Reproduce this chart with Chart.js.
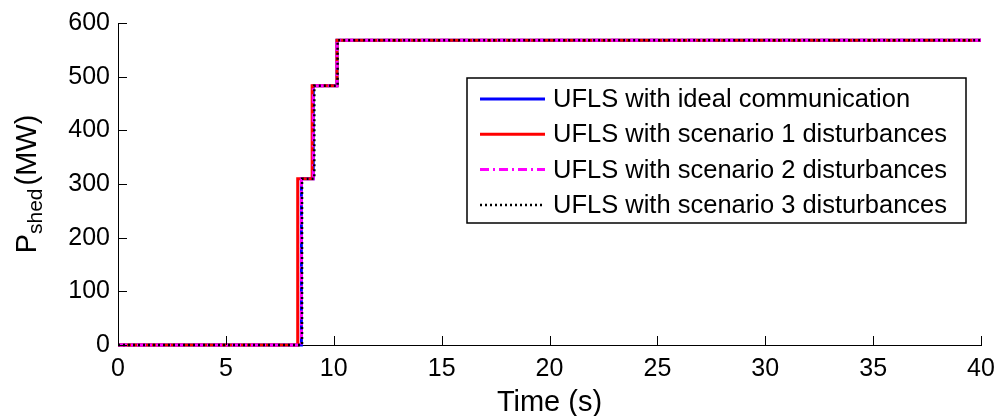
<!DOCTYPE html>
<html>
<head>
<meta charset="utf-8">
<script src="https://cdn.jsdelivr.net/npm/chart.js@4.4.1/dist/chart.umd.min.js"></script>
<style>
  html, body { margin: 0; padding: 0; background: #fff; }
  #wrap { width: 997px; height: 416px; }
</style>
</head>
<body>
<div id="wrap"><canvas id="shedChart" width="997" height="416"></canvas></div>
<script>
// step times (s) where the shed load changes, and the shed load (MW) from that time on
const timeIdeal = [0, 8.5, 9.05, 10.15, 40];
const shedIdeal = [0, 310, 483, 568, 568];
const timeScen1 = [0, 8.33, 9.0, 10.15, 40];
const shedScen1 = [0, 310, 483, 568, 568];
const timeScen2 = [0, 8.5, 9.05, 10.15, 40];
const shedScen2 = [0, 310, 483, 568, 568];
const timeScen3 = [0, 8.53, 9.1, 10.18, 40];
const shedScen3 = [0, 310, 483, 568, 568];

const seriesLabels = [
    'UFLS with ideal communication',
    'UFLS with scenario 1 disturbances',
    'UFLS with scenario 2 disturbances',
    'UFLS with scenario 3 disturbances'
];
const xTicks = [0, 5, 10, 15, 20, 25, 30, 35, 40];
const yTicks = [0, 100, 200, 300, 400, 500, 600];

const FONT = 'Liberation Sans, Arial, Helvetica, sans-serif';

function toPoints(xs, ys) {
    return xs.map((x, i) => ({ x: x, y: ys[i] }));
}

// ticks pointing into the plot (matlab style)
const innerTicks = {
    id: 'innerTicks',
    afterDraw(chart) {
        const ctx = chart.ctx;
        const a = chart.chartArea;
        const xs = chart.scales.x;
        const ys = chart.scales.y;
        ctx.save();
        ctx.strokeStyle = '#000';
        ctx.lineWidth = 1;
        ctx.beginPath();
        xTicks.forEach(v => {
            const px = Math.round(xs.getPixelForValue(v)) + 0.5;
            ctx.moveTo(px, a.bottom);
            ctx.lineTo(px, a.bottom - 9);
        });
        yTicks.forEach(v => {
            const py = Math.round(ys.getPixelForValue(v)) + 0.5;
            ctx.moveTo(a.left, py);
            ctx.lineTo(a.left + 9, py);
        });
        ctx.stroke();
        ctx.restore();
    }
};

// y title with subscript: P_shed (MW)
const yTitle = {
    id: 'yTitle',
    afterDraw(chart) {
        const ctx = chart.ctx;
        const a = chart.chartArea;
        const cy = (a.top + a.bottom) / 2;
        ctx.save();
        ctx.translate(36, cy);
        ctx.rotate(-Math.PI / 2);
        ctx.fillStyle = '#000';
        ctx.textBaseline = 'alphabetic';
        ctx.font = '29px ' + FONT;
        const wP = ctx.measureText('P').width;
        const wMW = ctx.measureText('(MW)').width;
        ctx.font = '21px ' + FONT;
        const wSub = ctx.measureText('shed').width;
        const total = wP + wSub + 3 + wMW;
        let x = -total / 2;
        ctx.font = '29px ' + FONT;
        ctx.fillText('P', x, 0);
        x += wP;
        ctx.font = '21px ' + FONT;
        ctx.fillText('shed', x, 6);
        x += wSub + 3;
        ctx.font = '29px ' + FONT;
        ctx.fillText('(MW)', x, 0);
        ctx.restore();
    }
};

// legend box drawn inside the axes
const boxLegend = {
    id: 'boxLegend',
    afterDraw(chart) {
        const ctx = chart.ctx;
        const left = 467, top = 78, right = 966, bottom = 223;
        ctx.save();
        ctx.fillStyle = '#fff';
        ctx.fillRect(left, top, right - left, bottom - top);
        ctx.strokeStyle = '#000';
        ctx.lineWidth = 1.5;
        ctx.strokeRect(left, top, right - left, bottom - top);
        ctx.font = '25.5px ' + FONT;
        ctx.textBaseline = 'middle';
        chart.data.datasets.forEach((ds, i) => {
            const y = 99 + i * 35.3;
            ctx.strokeStyle = ds.borderColor;
            ctx.lineWidth = ds.borderWidth;
            ctx.setLineDash(ds.borderDash || []);
            ctx.beginPath();
            ctx.moveTo(480, y);
            ctx.lineTo(545, y);
            ctx.stroke();
            ctx.setLineDash([]);
            ctx.fillStyle = '#000';
            ctx.fillText(ds.label, 553, y + 1);
        });
        ctx.restore();
    }
};

const ctx = document.getElementById('shedChart').getContext('2d');

const chart = new Chart(ctx, {
    type: 'line',
    data: {
        datasets: [{
            label: seriesLabels[0],
            data: toPoints(timeIdeal, shedIdeal),
            borderColor: '#0000ff',
            borderWidth: 3,
            order: 3
        }, {
            label: seriesLabels[1],
            data: toPoints(timeScen1, shedScen1),
            borderColor: '#ff0000',
            borderWidth: 3,
            order: 2
        }, {
            label: seriesLabels[2],
            data: toPoints(timeScen2, shedScen2),
            borderColor: '#ff00ff',
            borderWidth: 3,
            borderDash: [9, 4, 2, 4],
            order: 1
        }, {
            label: seriesLabels[3],
            data: toPoints(timeScen3, shedScen3),
            borderColor: '#000000',
            borderWidth: 2.5,
            borderDash: [2, 3],
            order: 0
        }]
    },
    options: {
        responsive: false,
        animation: false,
        devicePixelRatio: 1,
        layout: { padding: { top: 21, right: 16, left: 0, bottom: 0 } },
        elements: {
            point: { radius: 0 },
            line: { stepped: 'before', tension: 0, fill: false, borderCapStyle: 'butt' }
        },
        datasets: { line: { clip: false } },
        plugins: {
            legend: { display: false },
            tooltip: { enabled: false }
        },
        scales: {
            x: {
                type: 'linear',
                min: 0,
                max: 40,
                afterFit(scale) { scale.height = 71; scale.paddingRight = 0; },
                afterBuildTicks(scale) { scale.ticks = xTicks.map(v => ({ value: v })); },
                grid: { display: false, drawTicks: false },
                border: { display: true, color: '#000', width: 1 },
                ticks: {
                    color: '#000',
                    padding: 9,
                    maxRotation: 0,
                    font: { family: FONT, size: 25 }
                },
                title: {
                    display: true,
                    text: 'Time (s)',
                    color: '#000',
                    padding: { top: 0, bottom: -4 },
                    font: { family: FONT, size: 29 }
                }
            },
            y: {
                type: 'linear',
                min: 0,
                max: 600,
                afterFit(scale) { scale.width = 118; },
                afterBuildTicks(scale) { scale.ticks = yTicks.map(v => ({ value: v })); },
                grid: { display: false, drawTicks: false },
                border: { display: true, color: '#000', width: 1 },
                ticks: {
                    color: '#000',
                    padding: 8,
                    font: { family: FONT, size: 25 }
                }
            }
        }
    },
    plugins: [innerTicks, yTitle, boxLegend]
});
</script>
</body>
</html>
